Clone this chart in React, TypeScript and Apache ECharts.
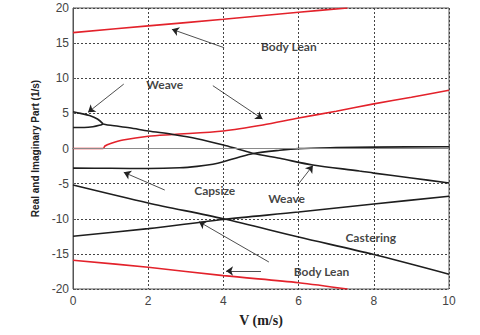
import React, { useEffect, useRef } from "react";
import * as echarts from "echarts";

// x ticks / y ticks
const xTicks = { min: 0, max: 10, interval: 2 };
const yTicks = { min: -20, max: 20, interval: 5 };

// Red curves (imaginary parts)
const bodyLeanImagPosV = [0, 2, 4, 6, 7.3];
const bodyLeanImagPos = [16.5, 17.45, 18.4, 19.4, 20];
const bodyLeanImagNegV = [0, 2, 4, 6, 7.3];
const bodyLeanImagNeg = [-15.9, -16.9, -18.1, -19.1, -20];
const weaveImagV = [0, 0.8, 0.85, 1, 1.33, 2, 2.66, 4, 5.05, 6, 7, 8, 9, 10];
const weaveImag = [0, 0, 0.35, 0.7, 1.2, 1.75, 2.0, 2.5, 3.35, 4.35, 5.3, 6.35, 7.3, 8.3];

// Black curves (real parts)
const weaveUpperV = [0, 0.2, 0.44, 0.65, 0.8];
const weaveUpper = [5.22, 5.0, 4.7, 4.2, 3.5];
const weaveLowerV = [0, 0.3, 0.53, 0.7, 0.8];
const weaveLower = [3.0, 3.0, 3.1, 3.3, 3.5];
const weaveRealV = [0.8, 1, 1.5, 2, 2.66, 3.3, 4, 4.4, 4.8, 5.5, 6.38, 7.62, 8, 9, 10];
const weaveReal = [3.5, 3.3, 2.95, 2.5, 2.0, 1.4, 0.5, -0.1, -0.7, -1.4, -2.35, -3.2, -3.5, -4.2, -4.9];
const capsizeV = [0, 1, 2, 2.84, 3.3, 3.72, 4, 4.43, 4.8, 5.5, 6, 7, 8, 10];
const capsize = [-2.8, -2.82, -2.85, -2.75, -2.55, -2.25, -1.9, -1.2, -0.7, -0.25, -0.02, 0.12, 0.2, 0.25];
const casteringV = [0, 2, 4, 6, 8, 10];
const castering = [-5.2, -7.75, -10.0, -12.6, -15.1, -17.9];
const risingV = [0, 2, 4, 6, 8, 10];
const rising = [-12.5, -11.4, -10.1, -9.05, -7.9, -6.8];

// Annotation labels
const labelNames = ["Body Lean", "Weave", "Capsize", "Weave", "Castering", "Body Lean"];
const labelX = [5.74, 2.44, 3.77, 5.68, 7.92, 6.61];
const labelY = [14.45, 9.18, -5.91, -7.05, -12.6, -17.44];

// Arrows: from (x1,y1) to head (x2,y2)
const arrowFromX = [4.02, 1.35, 3.72, 2.44, 5.96, 5.21, 5.0];
const arrowFromY = [14.35, 9.17, 8.94, -5.91, -5.3, -16.16, -17.44];
const arrowToX = [2.63, 0.4, 5.04, 1.35, 6.38, 3.35, 4.07];
const arrowToY = [16.97, 5.15, 4.2, -3.39, -2.42, -10.42, -17.44];

const RED = "#e3222b";
const BLACK = "#1e1e1e";

const zip = (xs: number[], ys: number[]) => xs.map((x, i) => [x, ys[i]]);

function lineSeries(name: string, xs: number[], ys: number[], color: string, width = 1.6) {
  return {
    name,
    type: "line",
    data: zip(xs, ys),
    showSymbol: false,
    symbol: "none",
    smooth: 0.3,
    lineStyle: { color, width },
    silent: true,
    z: 3,
  };
}

export default function App() {
  const ref = useRef<HTMLDivElement>(null);
  useEffect(() => {
    document.body.style.margin = "0";
    const chart = echarts.init(ref.current!, null, { renderer: "svg" });
    const option = {
      animation: false,
      backgroundColor: "#ffffff",
      grid: {
        left: 73,
        right: 31,
        top: 8,
        bottom: 46,
        show: true,
        borderColor: "#555",
        borderWidth: 1,
        backgroundColor: "transparent",
      },
      xAxis: {
        type: "value",
        ...xTicks,
        name: "V (m/s)",
        nameLocation: "middle",
        nameGap: 24,
        nameTextStyle: {
          fontFamily: "Liberation Serif",
          fontWeight: "bold",
          fontSize: 14,
          color: "#222",
        },
        axisLine: { show: true, lineStyle: { color: "#555" } },
        axisTick: { show: true, inside: true, length: 3, lineStyle: { color: "#555" } },
        axisLabel: { fontFamily: "Liberation Sans", fontSize: 12, color: "#444", margin: 6 },
        splitLine: { show: true, lineStyle: { color: "#444", type: [2, 2], width: 1 } },
      },
      yAxis: {
        type: "value",
        ...yTicks,
        name: "Real and Imaginary Part (1/s)",
        nameLocation: "middle",
        nameGap: 30,
        nameTextStyle: {
          fontFamily: "Liberation Sans",
          fontWeight: "bold",
          fontSize: 10,
          color: "#222",
        },
        axisLine: { show: true, lineStyle: { color: "#555" } },
        axisTick: { show: true, inside: true, length: 3, lineStyle: { color: "#555" } },
        axisLabel: { fontFamily: "Liberation Sans", fontSize: 12, color: "#444", margin: 4 },
        splitLine: { show: true, lineStyle: { color: "#444", type: [2, 2], width: 1 } },
      },
      series: [
        {
          name: "zero",
          type: "line",
          data: [],
          silent: true,
          markLine: {
            silent: true,
            symbol: "none",
            label: { show: false },
            lineStyle: { color: "#8a8a8a", width: 1, type: "solid" },
            data: [{ yAxis: 0 }],
          },
        },
        lineSeries("Body Lean Im +", bodyLeanImagPosV, bodyLeanImagPos, RED),
        lineSeries("Body Lean Im -", bodyLeanImagNegV, bodyLeanImagNeg, RED),
        lineSeries("Weave Im", weaveImagV, weaveImag, RED),
        lineSeries("Weave Re upper", weaveUpperV, weaveUpper, BLACK),
        lineSeries("Weave Re lower", weaveLowerV, weaveLower, BLACK),
        lineSeries("Weave Re", weaveRealV, weaveReal, BLACK),
        lineSeries("Capsize", capsizeV, capsize, BLACK),
        lineSeries("Castering", casteringV, castering, BLACK),
        lineSeries("Rising", risingV, rising, BLACK),
        {
          name: "arrows",
          type: "line",
          data: [],
          silent: true,
          markLine: {
            silent: true,
            symbol: ["none", "arrow"],
            symbolSize: 7,
            label: { show: false },
            lineStyle: { color: "#222", width: 0.8, type: "solid" },
            data: arrowFromX.map((x, i) => [
              { coord: [x, arrowFromY[i]] },
              { coord: [arrowToX[i], arrowToY[i]] },
            ]),
          },
        },
        {
          name: "labels",
          type: "scatter",
          symbolSize: 0,
          silent: true,
          data: labelNames.map((n, i) => ({ name: n, value: [labelX[i], labelY[i]] })),
          label: {
            show: true,
            position: "inside",
            formatter: (p: any) => p.name,
            fontFamily: "Lato",
            fontWeight: "bold",
            fontSize: 12,
            color: "#111",
          },
          z: 5,
        },
      ],
    };
    chart.setOption(option as any);
    return () => chart.dispose();
  }, []);
  return <div ref={ref} style={{ width: 480, height: 335 }} />;
}
